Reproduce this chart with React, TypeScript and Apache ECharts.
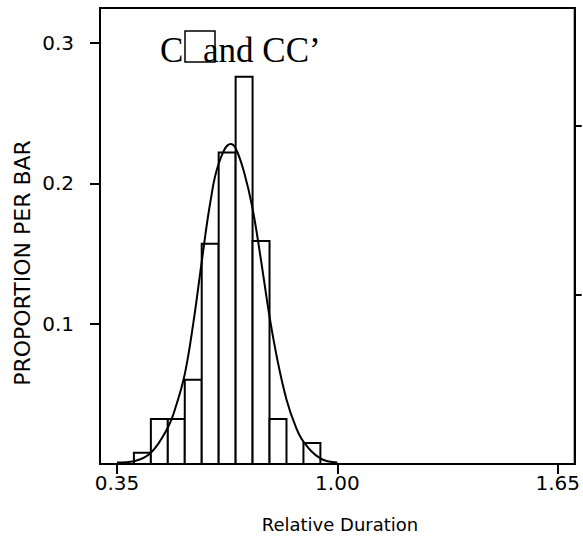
import React, { useEffect, useRef } from "react";
import * as echarts from "echarts";

// Histogram bins (relative duration) and proportion per bar
const binEdges = [0.35, 0.4, 0.45, 0.5, 0.55, 0.6, 0.65, 0.7, 0.75, 0.8, 0.85, 0.9, 0.95, 1.0];
const proportions = [0, 0.008, 0.032, 0.032, 0.06, 0.157, 0.222, 0.276, 0.159, 0.032, 0, 0.015, 0];

// Fitted curve
const curveX = [0.35, 0.4, 0.45, 0.5, 0.525, 0.55, 0.575, 0.6, 0.625, 0.65, 0.685, 0.7, 0.725, 0.75, 0.775, 0.8, 0.825, 0.85, 0.875, 0.9, 0.95, 1.0];
const curveY = [0.001, 0.002, 0.008, 0.026, 0.042, 0.064, 0.1, 0.144, 0.186, 0.214, 0.228, 0.225, 0.208, 0.182, 0.145, 0.105, 0.072, 0.046, 0.028, 0.016, 0.004, 0.001];

const xTicks = [0.35, 1.0, 1.65];
const yTicks = [0.1, 0.2, 0.3];
const rightTicks = [15, 30];

export default function App() {
  const ref = useRef<HTMLDivElement>(null);
  useEffect(() => {
    if (!ref.current) return;
    const chart = echarts.init(ref.current, undefined, { renderer: "svg" });
    const barData = proportions.map((p, i) => [binEdges[i], binEdges[i + 1], p]);
    const lineData = curveX.map((x, i) => [x, curveY[i]]);
    const black = "#000";
    const sans = "'DejaVu Sans'";
    chart.setOption({
      animation: false,
      backgroundColor: "#fff",
      grid: {
        left: 100,
        right: 5,
        top: 8,
        bottom: 84,
        show: true,
        borderColor: black,
        borderWidth: 2,
        backgroundColor: "transparent",
      },
      xAxis: {
        type: "value",
        min: 0.3,
        max: 1.7,
        axisLine: { show: true, lineStyle: { color: black, width: 2 } },
        axisTick: { show: true, customValues: xTicks, length: 10, lineStyle: { color: black, width: 2 } },
        axisLabel: {
          show: true,
          customValues: xTicks,
          formatter: (v: number) => v.toFixed(2),
          color: black,
          fontFamily: sans,
          fontSize: 20,
          margin: 9,
        },
        splitLine: { show: false },
      },
      yAxis: [
        {
          type: "value",
          min: 0,
          max: 0.325,
          position: "left",
          axisLine: { show: true, lineStyle: { color: black, width: 2 } },
          axisTick: { show: true, customValues: yTicks, length: 10, lineStyle: { color: black, width: 2 } },
          axisLabel: {
            show: true,
            customValues: yTicks,
            formatter: (v: number) => String(Math.round(v * 10) / 10),
            color: black,
            fontFamily: sans,
            fontSize: 20,
            margin: 26,
          },
          splitLine: { show: false },
        },
        {
          type: "value",
          min: 0,
          max: 40.5,
          position: "right",
          axisLine: { show: true, lineStyle: { color: black, width: 2 } },
          axisTick: { show: true, customValues: rightTicks, length: 7, lineStyle: { color: black, width: 2 } },
          axisLabel: { show: false },
          splitLine: { show: false },
        },
      ],
      series: [
        {
          type: "custom",
          xAxisIndex: 0,
          yAxisIndex: 0,
          encode: { x: [0, 1], y: 2 },
          data: barData,
          z: 2,
          renderItem: (_params: any, api: any) => {
            const p0 = api.coord([api.value(0), api.value(2)]);
            const p1 = api.coord([api.value(1), 0]);
            return {
              type: "rect",
              shape: { x: p0[0], y: p0[1], width: p1[0] - p0[0], height: p1[1] - p0[1] },
              style: { fill: "#fff", stroke: black, lineWidth: 2 },
            };
          },
        },
        {
          type: "line",
          xAxisIndex: 0,
          yAxisIndex: 0,
          data: lineData,
          smooth: 0.4,
          showSymbol: false,
          symbol: "none",
          z: 3,
          lineStyle: { color: black, width: 2 },
        },
      ],
      graphic: [
        {
          type: "text",
          x: 160,
          y: 50,
          style: { text: "C", font: "35px 'Liberation Serif'", fill: black, align: "left", verticalAlign: "middle" },
        },
        {
          type: "rect",
          shape: { x: 185, y: 31, width: 30, height: 31 },
          style: { fill: "none", stroke: black, lineWidth: 1.5 },
        },
        {
          type: "text",
          x: 203,
          y: 50,
          style: { text: "and CC\u2019", font: "35px 'Liberation Serif'", fill: black, align: "left", verticalAlign: "middle" },
        },
        {
          type: "text",
          x: 22,
          y: 263,
          rotation: Math.PI / 2,
          style: { text: "PROPORTION PER BAR", font: "22px 'DejaVu Sans'", fill: black, align: "center", verticalAlign: "middle" },
        },
        {
          type: "text",
          x: 340,
          y: 524,
          style: { text: "Relative Duration", font: "18px 'DejaVu Sans'", fill: black, align: "center", verticalAlign: "middle" },
        },
      ],
    });
    return () => chart.dispose();
  }, []);
  return <div ref={ref} style={{ position: "fixed", left: 0, top: 0, width: 583, height: 548 }} />;
}
